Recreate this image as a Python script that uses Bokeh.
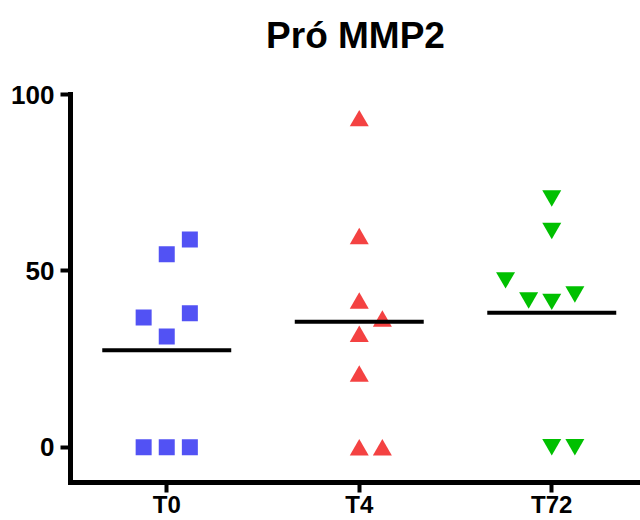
import numpy as np
from bokeh.plotting import figure
from bokeh.models import FixedTicker, ColumnDataSource, Range1d, Title
from bokeh.transform import dodge
from bokeh.embed import file_html
from bokeh.resources import INLINE

# ---- data ----
title = "Pró MMP2"
categories = ["T0", "T4", "T72"]
t0_values = [58.9, 54.7, 36.8, 38.0, 31.4, 0, 0, 0]
t4_values = [93.3, 59.9, 41.6, 36.5, 32.2, 20.9, 0, 0]
t72_values = [70.5, 61.3, 47.3, 41.6, 41.2, 43.3, 0, 0]
y_ticks = [0, 50, 100]

# ---- layout: horizontal jitter slot of each point within its column ----
t0_slots = [1, 0, -1, 1, 0, -1, 0, 1]
t4_slots = [0, 0, 0, 1, 0, 0, 0, 1]
t72_slots = [0, 0, -2, -1, 0, 1, 0, 1]
slot_width = 0.12
mean_half_width = 0.335

p = figure(width=640, height=520, output_backend="svg", toolbar_location=None, title=None,
           x_range=Range1d(0.5, 3.461), y_range=Range1d(-10, 100),
           min_border_left=70, min_border_right=0, min_border_top=94, min_border_bottom=38)

series = [
    (t0_values, t0_slots, "square", "#5252F4", 16, 0.0),
    (t4_values, t4_slots, "triangle", "#F44242", 19, -0.78),
    (t72_values, t72_slots, "inverted_triangle", "#00C000", 19, 0.78),
]

mx0, mx1, my = [], [], []
for i, (vals, slots, marker, color, size, yoff) in enumerate(series):
    center = i + 1
    src = ColumnDataSource(dict(x=[center + s * slot_width for s in slots], y=vals))
    p.scatter(x="x", y=dodge("y", yoff, range=p.y_range), source=src, marker=marker,
              size=size, fill_color=color, line_color=None)
    m = float(np.mean(vals))
    mx0.append(center - mean_half_width)
    mx1.append(center + mean_half_width)
    my.append(m)

p.segment(x0=mx0, y0=my, x1=mx1, y1=my, line_color="black", line_width=4)

p.xgrid.visible = False
p.ygrid.visible = False
p.outline_line_color = None
p.background_fill_color = "white"
p.border_fill_color = "white"

p.xaxis.ticker = FixedTicker(ticks=[1, 2, 3])
p.xaxis.major_label_overrides = {i + 1: c for i, c in enumerate(categories)}
p.yaxis.ticker = FixedTicker(ticks=y_ticks)

for ax in (p.xaxis[0], p.yaxis[0]):
    ax.axis_line_width = 5
    ax.axis_line_color = "black"
    ax.axis_line_cap = "square"
    ax.major_tick_line_width = 4
    ax.major_tick_line_color = "black"
    ax.major_tick_out = 10
    ax.major_tick_in = 0
    ax.minor_tick_out = 0
    ax.minor_tick_in = 0
    ax.major_label_text_font = "Liberation Sans"
    ax.major_label_text_font_style = "bold"
    ax.major_label_text_color = "black"

p.xaxis.major_label_standoff = -2
p.xaxis.major_label_text_font_size = "24px"
p.yaxis.major_label_text_font_size = "26px"
p.yaxis.major_label_standoff = 6

# spacer between frame and title (first item added sits nearest the frame)
p.add_layout(Title(text=" ", text_font_size="10px", standoff=21), "above")
p.add_layout(Title(text=title, align="center", text_font="Liberation Sans",
                   text_font_style="bold", text_font_size="37px", text_color="black",
                   standoff=10), "above")

open("out.html", "w").write(file_html(p, INLINE))
